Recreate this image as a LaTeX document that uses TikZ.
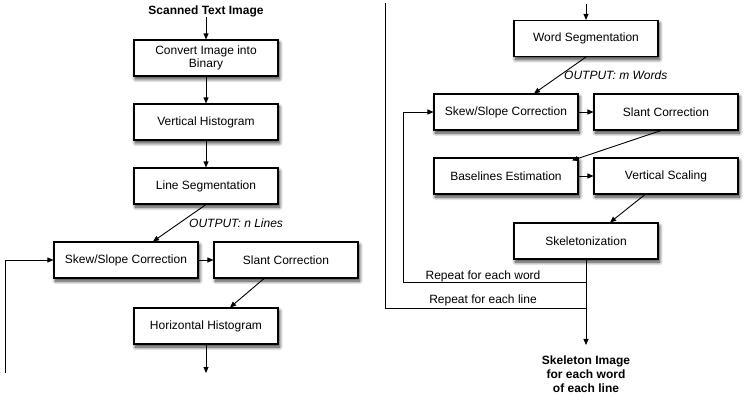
\documentclass[tikz,border=0pt]{standalone}
\usepackage{fontspec}
\setmainfont{Liberation Sans}
\usetikzlibrary{arrows.meta,shadows.blur}
\begin{document}
\begin{tikzpicture}[x=1pt,y=-1pt,
  box/.style={draw=black,line width=1.1pt,fill=white,minimum width=144pt,minimum height=36pt,
    inner sep=2pt,align=center,font=\fontsize{12}{13.3}\selectfont,
    blur shadow={shadow xshift=1.5pt,shadow yshift=-3pt,shadow blur radius=3.5pt,shadow blur steps=10,shadow opacity=80}},
  arr/.style={line width=0.9pt,-{Triangle[length=6pt,width=5pt]}},
  ln/.style={line width=0.9pt},
  lbl/.style={font=\fontsize{12}{13.3}\selectfont\itshape,inner sep=0pt},
  plain/.style={font=\fontsize{12}{13.3}\selectfont,inner sep=0pt},
  bold/.style={font=\fontsize{12}{14}\selectfont\bfseries,inner sep=0pt,align=center}]
\useasboundingbox (0,0) rectangle (753,406);
% left column
\node[bold] (scan) at (206,11) {Scanned Text Image};
\node[box] (conv) at (206,58) {Convert Image into\\Binary};
\node[box] (vhist) at (206,122) {Vertical Histogram};
\node[box] (lseg) at (206,186) {Line Segmentation};
\node[box] (skewL) at (126,260) {Skew/Slope Correction};
\node[box] (slantL) at (286,260) {Slant Correction};
\node[box] (hhist) at (206,326) {Horizontal Histogram};
\node[lbl,anchor=west] (outn) at (189,223) {OUTPUT: n Lines};
\coordinate (hend) at (206,373);
\coordinate (lbot) at (5,373);
\coordinate (lcorner) at (5,260);
\draw[arr] (scan.south) -- (conv.north);
\draw[arr] (conv) -- (vhist);
\draw[arr] (vhist) -- (lseg);
\draw[arr] (lseg.south) -- ([xshift=27pt]skewL.north);
\draw[arr] (skewL) -- (slantL);
\draw[arr] ([xshift=-22pt]slantL.south) -- ([xshift=24pt]hhist.north);
\draw[arr] (hhist.south) -- (hend);
\draw[arr] (lbot) -- (lcorner) -- (skewL.west);
% right column
\coordinate (rtop) at (586,4);
\node[box] (wseg) at (586,38.5) {Word Segmentation};
\node[box] (skewR) at (506,112) {Skew/Slope Correction};
\node[box] (slantR) at (666,112) {Slant Correction};
\node[box] (base) at (506,176) {Baselines Estimation};
\node[box] (vscal) at (666,176) {Vertical Scaling};
\node[box] (skel) at (586,241) {Skeletonization};
\node[lbl,anchor=west] (outm) at (564,75) {OUTPUT: m Words};
\draw[arr] (rtop) -- (wseg.north);
\draw[arr] (wseg.south) -- ([xshift=28pt]skewR.north);
\draw[arr] (skewR) -- (slantR);
\draw[arr] ([xshift=-5pt]slantR.south) -- ([xshift=66pt,yshift=-3pt]base.north);
\draw[arr] (base) -- (vscal);
\draw[arr] ([xshift=-21pt]vscal.south) -- ([xshift=24pt]skel.north);
\coordinate (wj) at (586,282);
\coordinate (wc) at (403,282);
\coordinate (lj) at (586,308);
\coordinate (lc) at (385,308);
\coordinate (ltop) at (385,3);
\coordinate (fend) at (586,345);
\draw[arr] (skel.south) -- (fend);
\draw[arr] (wj) -- (wc) |- (skewR.west);
\draw[ln] (lj) -- (lc) -- (ltop);
\node[plain] (rw) at (483,276) {Repeat for each word};
\node[plain] (rl) at (483,300) {Repeat for each line};
\node[bold] (final) at (586,374) {Skeleton Image\\for each word\\of each line};
\end{tikzpicture}
\end{document}
